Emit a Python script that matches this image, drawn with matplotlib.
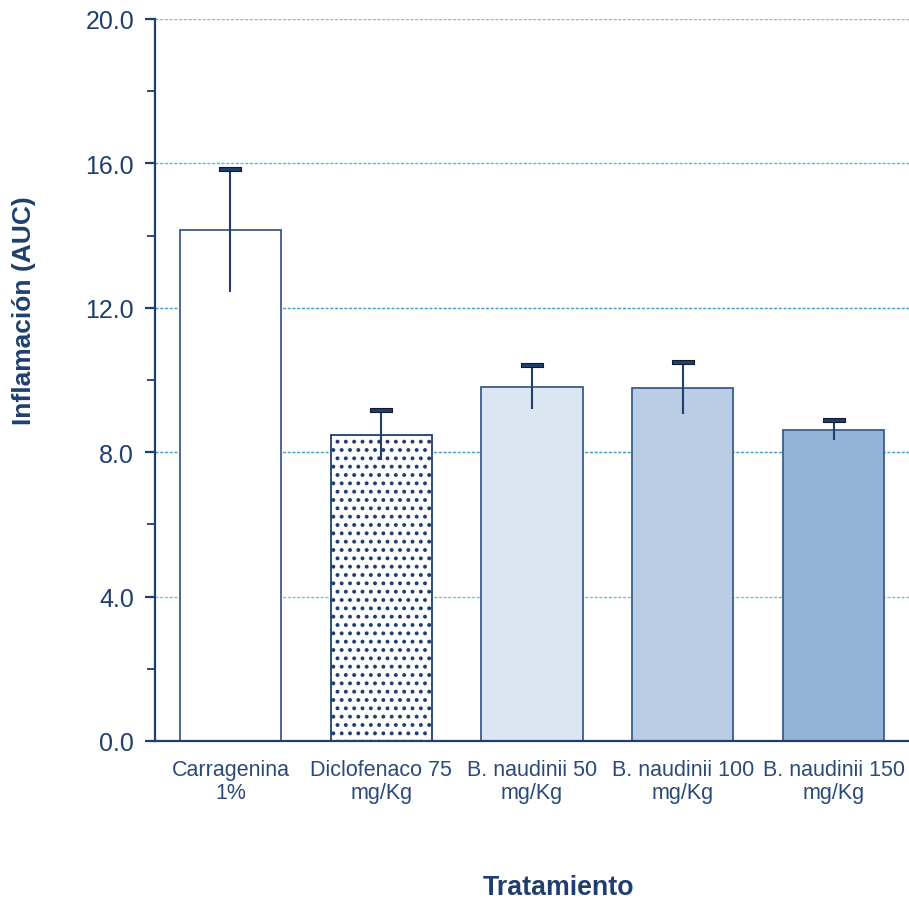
import matplotlib.pyplot as plt
import numpy as np
from matplotlib.ticker import MultipleLocator

plt.rcParams["font.family"] = ["Liberation Sans", "DejaVu Sans"]
plt.rcParams["hatch.linewidth"] = 1.6

# data
labels = ["Carragenina\n1%", "Diclofenaco 75\nmg/Kg", "B. naudinii 50\nmg/Kg",
          "B. naudinii 100\nmg/Kg", "B. naudinii 150\nmg/Kg"]
means = [14.15, 8.48, 9.81, 9.78, 8.61]
errors = [1.70, 0.69, 0.61, 0.72, 0.28]
bar_colors = ["white", "white", "#dce6f2", "#b9cde5", "#95b3d7"]
hatches = [None, "..", None, None, None]
yticks = [0.0, 4.0, 8.0, 12.0, 16.0, 20.0]
grid_colors = ["none", "#6cc3dc", "#3f9fb3", "#3f9fb3", "#5ab8d4", "#6cc3dc"]

navy = "#1f3f6e"
edge = "#3a5d8c"

fig = plt.figure(figsize=(9.09, 9.03), dpi=100)
ax = fig.add_axes([0.1705, 0.1783, 0.8295, 0.7996])

x = np.arange(len(labels))

for yv, gc in zip(yticks, grid_colors):
    if gc != "none":
        ax.axhline(yv, color=gc, lw=1.0, ls=(0, (2.2, 1.2)), zorder=0)

bars = ax.bar(x, means, width=0.67, color=bar_colors, edgecolor=edge,
              linewidth=1.3, zorder=2)
for b, h in zip(bars, hatches):
    if h:
        b.set_hatch(h)
        b.set_edgecolor(navy)

# error bars: line through the top of bar, cap only on top
ax.vlines(x, np.array(means) - np.array(errors), np.array(means) + np.array(errors),
          color=navy, lw=1.5, zorder=3)
cap = [(-5, -1), (5, -1), (5, 1), (-5, 1), (-5, -1)]
ax.plot(x, np.array(means) + np.array(errors), ls="none", marker=cap,
        markersize=16, markerfacecolor=navy, markeredgecolor="#111a2a",
        markeredgewidth=0.8, zorder=4)

ax.set_xlim(-0.5, len(labels) - 0.5)
ax.set_ylim(0, 20)
ax.set_yticks(yticks)
ax.set_yticklabels([f"{v:.1f}" for v in yticks])
ax.yaxis.set_minor_locator(MultipleLocator(2))
ax.set_xticks(x)
ax.set_xticklabels(labels, fontsize=15.5, color="#2a4a7a", linespacing=1.1)

ax.tick_params(axis="y", which="major", length=7, width=1.6, color=navy,
               labelsize=18, labelcolor=navy, pad=8)
ax.tick_params(axis="y", which="minor", length=6, width=1.3, color=navy)
ax.tick_params(axis="x", length=0, pad=13)

for s in ["top", "right"]:
    ax.spines[s].set_visible(False)
for s in ["left", "bottom"]:
    ax.spines[s].set_color(navy)
    ax.spines[s].set_linewidth(1.6)

ax.set_ylabel("Inflamación (AUC)", fontsize=19, fontweight="bold", color=navy)
ax.yaxis.set_label_coords(-0.158, 0.598)
ax.set_xlabel("Tratamiento", fontsize=19.3, fontweight="bold", color=navy)
ax.xaxis.set_label_coords(0.535, -0.184)

fig.savefig("out.png", dpi=100)
